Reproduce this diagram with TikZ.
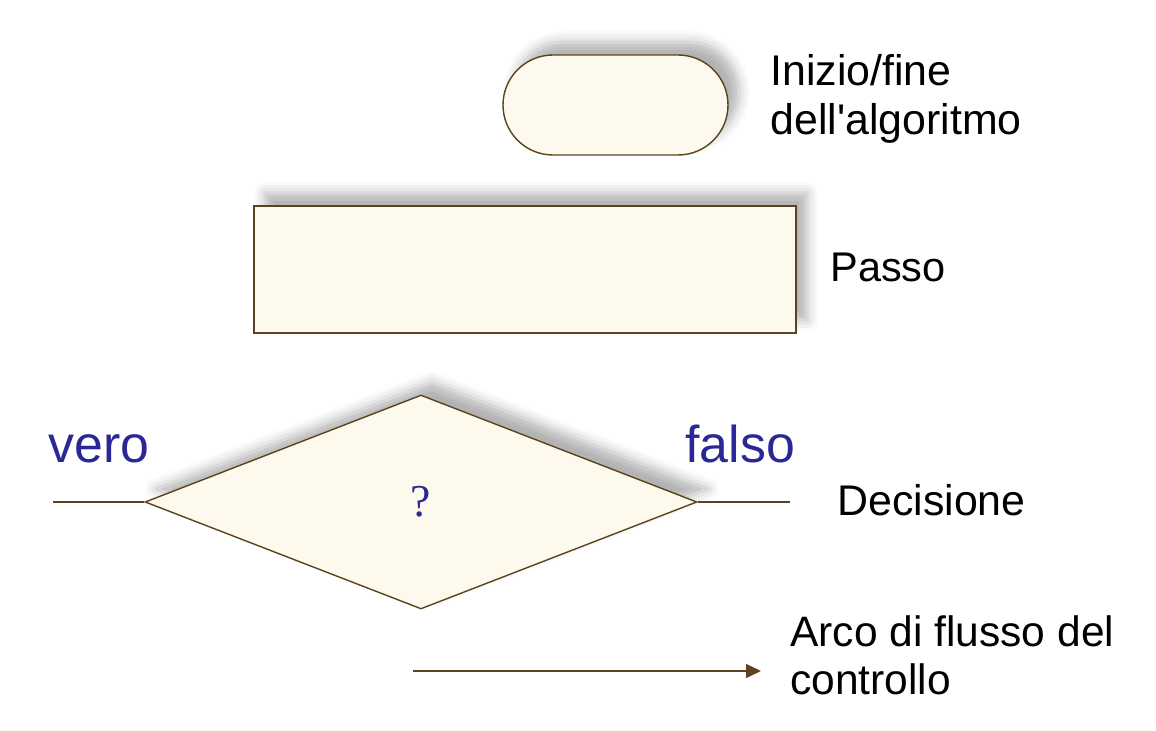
\documentclass[tikz,border=0pt]{standalone}
\usepackage{fontspec}
\setmainfont{Liberation Sans}
\newfontfamily\qfont{Liberation Serif}
\usepackage{tikz}
\usetikzlibrary{positioning, shapes.geometric, arrows.meta, shadows.blur}
\definecolor{edge}{RGB}{92,66,30}
\definecolor{cream}{RGB}{253,250,237}
\definecolor{label}{RGB}{42,40,150}

\begin{document}
\begin{tikzpicture}[
			every node/.style={font=\fontsize{24}{28}\selectfont},
			soft/.style={blur shadow={shadow xshift=0.22cm, shadow yshift=0.26cm, shadow opacity=30, shadow blur radius=0.22cm}},
			terminal/.style={rectangle, draw=edge, fill=cream, line width=0.8pt, rounded corners=1cm, minimum width=4.5cm, minimum height=2cm, inner sep=0pt, soft},
			stepbox/.style={rectangle, draw=edge, fill=cream, line width=0.8pt, minimum width=10.84cm, minimum height=2.54cm, inner sep=0pt, soft},
			decision/.style={diamond, draw=edge, fill=cream, line width=0.8pt, minimum width=11.04cm, minimum height=4.28cm, inner sep=0pt, soft},
			legend/.style={anchor=west, align=left, inner sep=0pt},
			branch/.style={anchor=base west, inner sep=0pt, text=label, font=\fontsize{29.5}{32}\selectfont},
			flow/.style={draw=edge, line width=0.8pt}
			]
			\useasboundingbox (0,0) rectangle (23.12,14.6);
			
			% Start / end
			\node[terminal] (start) at (12.31,12.5) {};
			\node[legend, font=\fontsize{24.4}{28}\selectfont] (startlbl) at (15.4,12.62) {Inizio/fine\\dell\textquotesingle algoritmo};
			
			% Step
			\node[stepbox] (step) at (10.5,9.21) {};
			\node[legend, font=\fontsize{23.6}{28}\selectfont] (steplbl) at (16.6,9.26) {Passo};
			
			% Decision
			\node[decision] (dec) at (8.42,4.56) {\qfont\fontsize{26}{28}\selectfont\color{label}?};
			\node[legend, font=\fontsize{24.4}{28}\selectfont] (declbl) at (16.74,4.6) {Decisione};
			\node[branch] (true) at (0.96,5.34) {vero};
			\node[branch] (false) at (13.7,5.34) {falso};
			\coordinate (tout) at (1.06,4.56);
			\coordinate (fout) at (15.8,4.56);
			\draw[flow] (tout) -- (dec.west);
			\draw[flow] (dec.east) -- (fout);
			
			% Control flow
			\coordinate (a0) at (8.26,1.18);
			\coordinate (a1) at (15.22,1.18);
			\draw[flow, -{Triangle[length=0.3cm, width=0.28cm]}] (a0) -- (a1);
			\node[legend, font=\fontsize{24.2}{27.5}\selectfont] (arclbl) at (15.8,1.5) {Arco di flusso del\\controllo};
			
		\end{tikzpicture}
\end{document}
